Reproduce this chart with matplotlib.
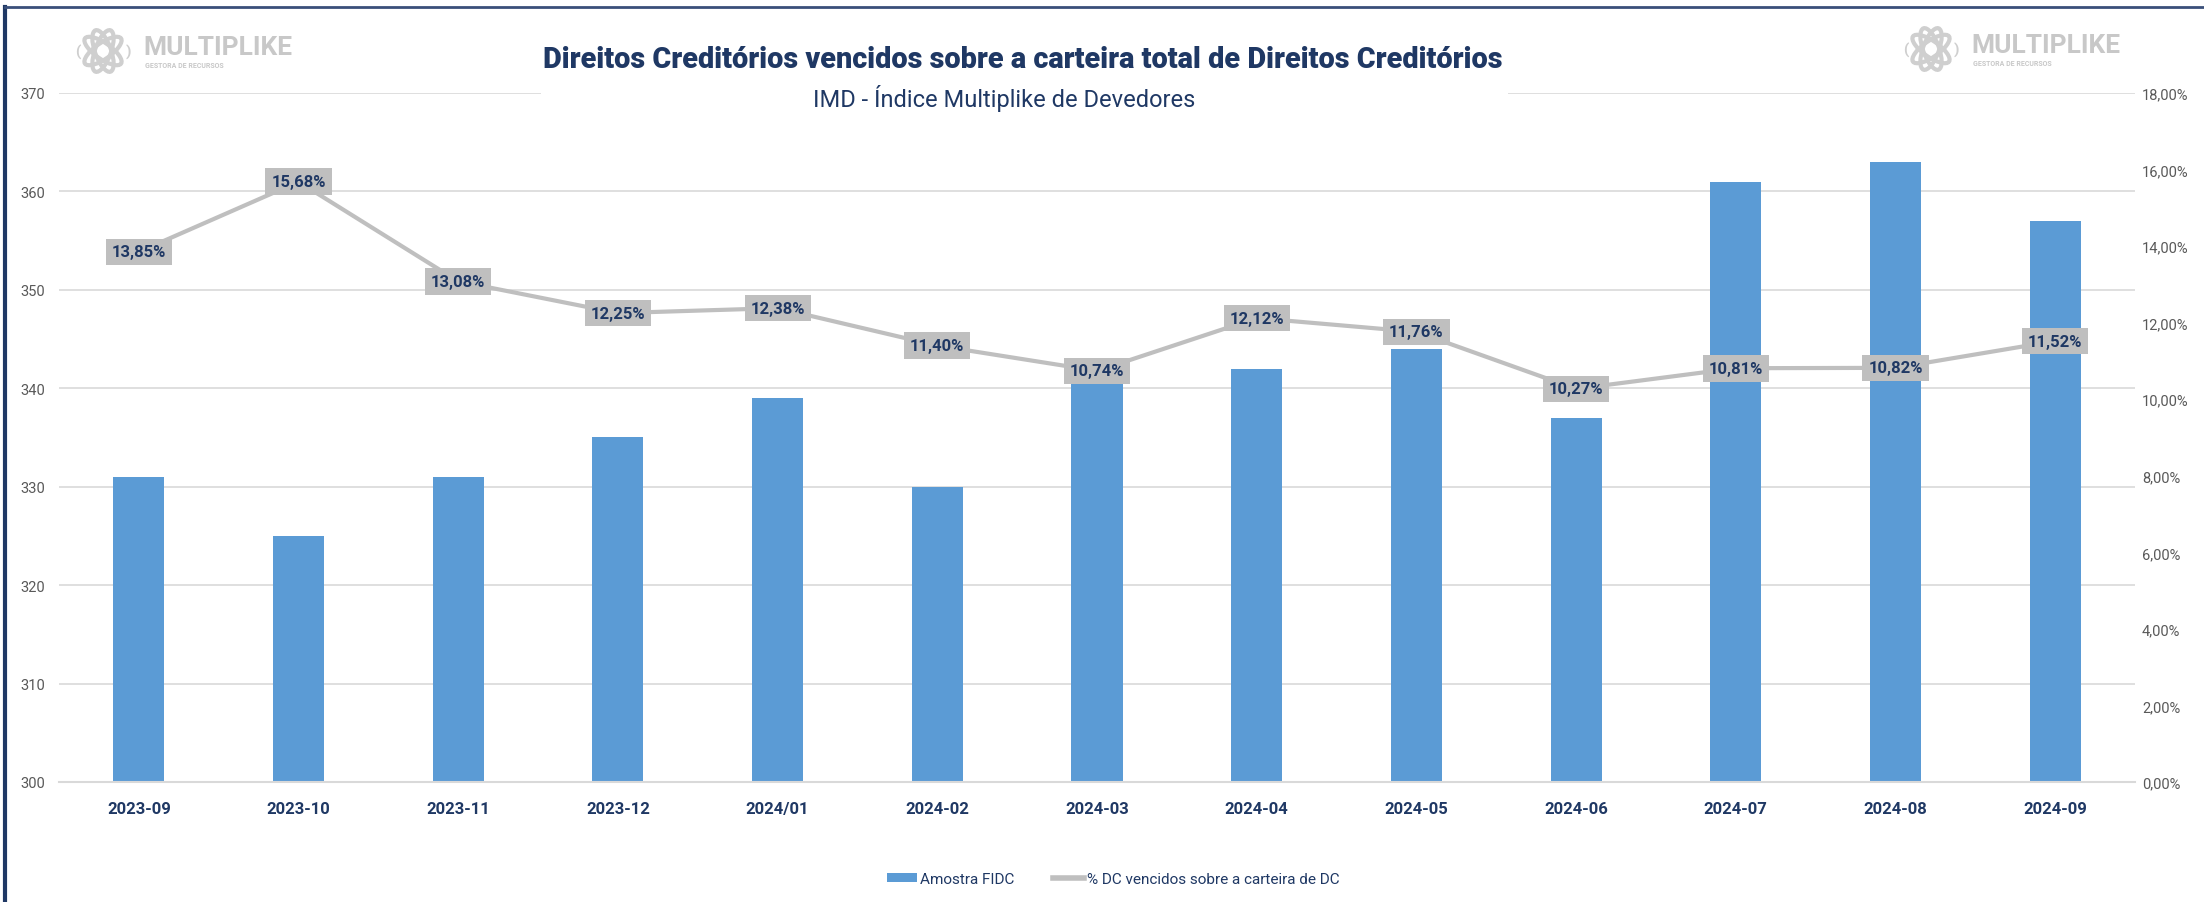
import numpy as np
import matplotlib.pyplot as plt
from matplotlib.patches import Ellipse, Rectangle
from matplotlib.lines import Line2D

meses = ['2023-09', '2023-10', '2023-11', '2023-12', '2024/01', '2024-02', '2024-03',
         '2024-04', '2024-05', '2024-06', '2024-07', '2024-08', '2024-09']
amostra_fidc = [331, 325, 331, 335, 339, 330, 341, 342, 344, 337, 361, 363, 357]
pct_vencidos = [13.85, 15.68, 13.08, 12.25, 12.38, 11.40, 10.74, 12.12, 11.76, 10.27, 10.81, 10.82, 11.52]

azul = '#5B9BD5'
cinza = '#BFBFBF'
navy = '#1F3864'
cinza_txt = '#595959'

W, H = 2204, 903
fig = plt.figure(figsize=(W / 100, H / 100), dpi=100)
plt.rcParams['font.family'] = ['Roboto', 'DejaVu Sans']

ax = fig.add_axes([59 / W, 1 - 783 / H, (2135 - 59) / W, (783 - 94) / H])
x = np.arange(len(meses))
ax.bar(x, amostra_fidc, width=0.32, color=azul, zorder=2)
ax.set_xlim(-0.5, len(meses) - 0.5)
ax.set_ylim(300, 370)
ax.set_yticks(range(300, 371, 10))
ax.grid(axis='y', color='#D9D9D9', lw=1.2, zorder=0)
for s in ax.spines.values():
    s.set_visible(False)
ax.spines['bottom'].set_visible(True)
ax.spines['bottom'].set_color('#D9D9D9')
ax.spines['bottom'].set_linewidth(1.5)
ax.tick_params(axis='y', length=0, labelsize=10.5, labelcolor=cinza_txt, pad=10)
ax.tick_params(axis='x', length=0, pad=14)
ax.set_xticks(x)
ax.set_xticklabels(meses, fontsize=12, fontweight='bold', color=navy)

ax2 = ax.twinx()
ax2.plot(x, pct_vencidos, color=cinza, lw=3, zorder=3)
ax2.set_ylim(0, 18)
ax2.set_yticks(range(0, 19, 2))
ax2.set_yticklabels(['%d,00%%' % v for v in range(0, 19, 2)])
for s in ax2.spines.values():
    s.set_visible(False)
ax2.tick_params(axis='y', length=0, labelsize=10.5, labelcolor=cinza_txt, pad=5)
for xi, v in zip(x, pct_vencidos):
    ax2.text(xi, v, ('%.2f%%' % v).replace('.', ','), ha='center', va='center',
             fontsize=12, fontweight='bold', color=navy, zorder=5,
             bbox=dict(boxstyle='square,pad=0.35', fc=cinza, ec='none'))

# caixa branca atras do titulo
fig.add_artist(Rectangle((541 / W, 1 - 115 / H), (1508 - 541) / W, 85 / H,
                         transform=fig.transFigure, fc='white', ec='none', zorder=4))
fig.text(1023 / W, 1 - 60 / H, 'Direitos Creditórios vencidos sobre a carteira total de Direitos Creditórios',
         ha='center', va='center', fontsize=20.8, fontweight='black', color=navy, zorder=5)
fig.text(1004 / W, 1 - 98 / H, 'IMD - Índice Multiplike de Devedores',
         ha='center', va='center', fontsize=17, fontweight='normal', color=navy, zorder=5)


def logo(x0, y0):
    # x0, y0 em pixels (canto do icone)
    la = fig.add_axes([x0 / W, 1 - (y0 + 48) / H, 56 / W, 48 / H])
    la.set_xlim(0, 56)
    la.set_ylim(0, 48)
    la.axis('off')
    for ang in (55, -55, 20, -20):
        la.add_patch(Ellipse((28, 24), 16, 44, angle=ang, fc='none', ec='#CFCFCF', lw=3))
    la.text(3, 24, '(', ha='center', va='center', fontsize=11, color='#CFCFCF', fontweight='bold')
    la.text(53, 24, ')', ha='center', va='center', fontsize=11, color='#CFCFCF', fontweight='bold')
    fig.text((x0 + 68) / W, 1 - (y0 + 20) / H, 'MULTIPLIKE', ha='left', va='center',
             fontsize=19, fontweight='bold', color='#C8C8C8')
    fig.text((x0 + 70) / W, 1 - (y0 + 38) / H, 'GESTORA DE RECURSOS', ha='left', va='center',
             fontsize=5, fontweight='bold', color='#C8C8C8')


logo(75, 28)
logo(1903, 26)

# legenda
leg_h = [Rectangle((0, 0), 1, 1, fc=azul, ec='none'), Line2D([0], [0], color=cinza, lw=4)]
fig.legend(leg_h, ['Amostra FIDC', '% DC vencidos sobre a carteira de DC'],
           loc='center', bbox_to_anchor=(1113 / W, 1 - 880 / H), ncol=2, frameon=False,
           fontsize=11, labelcolor=navy, handlelength=2.0, handleheight=0.6,
           columnspacing=2.5, handletextpad=0.2)

# moldura
fig.add_artist(Line2D([5 / W, 5 / W], [0, 1 - 8 / H], transform=fig.transFigure, color=navy, lw=3))
fig.add_artist(Line2D([5 / W, 1], [1 - 8 / H, 1 - 8 / H], transform=fig.transFigure, color='#3A4F7A', lw=2))

fig.savefig('out.png', dpi=100, facecolor='white')
